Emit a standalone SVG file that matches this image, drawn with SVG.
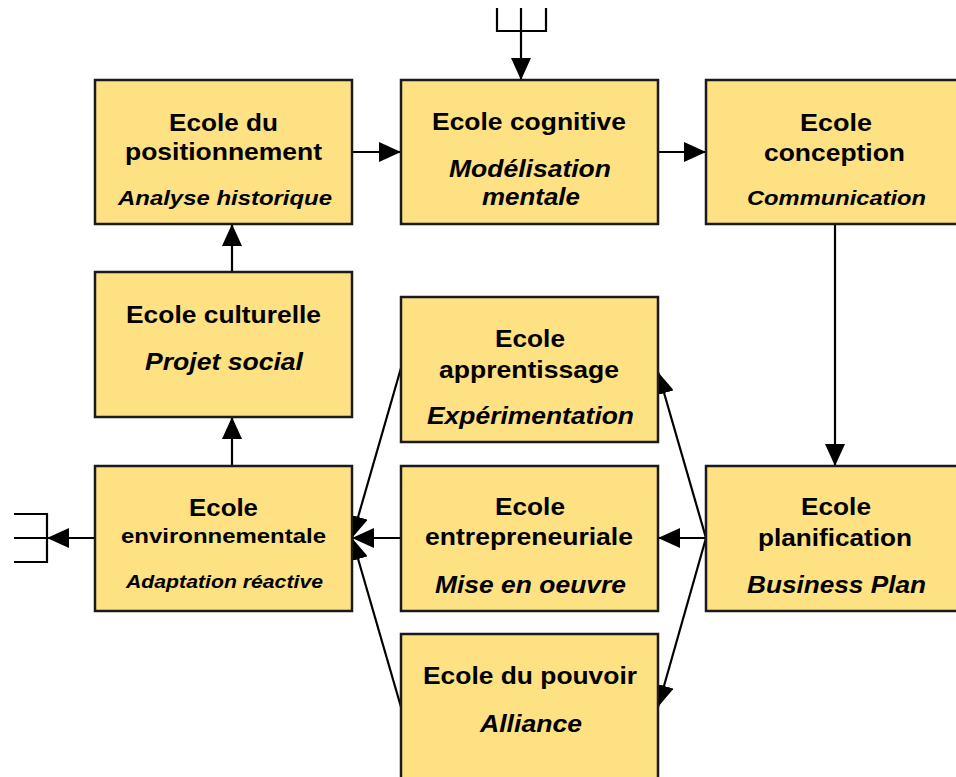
<svg xmlns="http://www.w3.org/2000/svg" width="956" height="777" viewBox="0 0 956 777">
<defs>
<marker id="arr" viewBox="0 0 22 20" refX="22" refY="10" markerWidth="22" markerHeight="20" markerUnits="userSpaceOnUse" orient="auto">
<path d="M0,0 L22,10 L0,20 z" fill="#000"/>
</marker>
<style>
.box{fill:#FEE183;stroke:#1a1a1a;stroke-width:2.5}
.ln{fill:none;stroke:#000;stroke-width:2.2}
.ar{fill:none;stroke:#000;stroke-width:2.2;marker-end:url(#arr)}
text{font-family:"Liberation Sans",Arial,sans-serif;fill:#000;font-weight:bold}
.b{font-size:24.5px}
.bs{font-size:20.5px}
.i{font-size:23.5px;font-style:italic}
.si{font-size:19.5px;font-style:italic}
.xs{font-size:18.5px;font-style:italic}
</style>
</defs>
<rect width="956" height="777" fill="#fff"/>
<g id="connectors">
<path class="ln" d="M497,8 V31 H546 V8 M521,8 V31"/>
<path class="ar" d="M521,31 V80"/>
<path class="ar" d="M352,152 H401"/>
<path class="ar" d="M658,152 H706"/>
<path class="ar" d="M835,224 V466"/>
<path class="ar" d="M232,272 V224"/>
<path class="ar" d="M232,466 V417"/>
<path class="ar" d="M95,538 H47"/>
<path class="ln" d="M14,514 H47 V562 H14 M14,538 H47"/>
<path class="ar" d="M401,538 H352"/>
<path class="ar" d="M401,368 L352,538"/>
<path class="ar" d="M401,707 L352,538"/>
<path class="ar" d="M706,538 H658"/>
<path class="ar" d="M706,538 L658,372"/>
<path class="ar" d="M706,538 L658,707"/>
</g>
<g id="positionnement">
<rect class="box" x="95" y="80" width="257" height="144"/>
<text class="b" x="169" y="131" textLength="109" lengthAdjust="spacingAndGlyphs">Ecole du</text>
<text class="b" x="125" y="160" textLength="197" lengthAdjust="spacingAndGlyphs">positionnement</text>
<text class="si" x="118" y="205" textLength="214" lengthAdjust="spacingAndGlyphs">Analyse historique</text>
</g>
<g id="cognitive">
<rect class="box" x="401" y="80" width="257" height="144"/>
<text class="b" x="432" y="130" textLength="194" lengthAdjust="spacingAndGlyphs">Ecole cognitive</text>
<text class="i" x="449" y="177" textLength="162" lengthAdjust="spacingAndGlyphs">Modélisation</text>
<text class="i" x="482" y="205" textLength="98" lengthAdjust="spacingAndGlyphs">mentale</text>
</g>
<g id="conception">
<rect class="box" x="706" y="80" width="262" height="144"/>
<text class="b" x="800" y="131" textLength="72" lengthAdjust="spacingAndGlyphs">Ecole</text>
<text class="b" x="764" y="161" textLength="141" lengthAdjust="spacingAndGlyphs">conception</text>
<text class="si" x="747" y="205" textLength="179" lengthAdjust="spacingAndGlyphs">Communication</text>
</g>
<g id="culturelle">
<rect class="box" x="95" y="272" width="257" height="145"/>
<text class="b" x="126" y="323" textLength="195" lengthAdjust="spacingAndGlyphs">Ecole culturelle</text>
<text class="i" x="145" y="370" textLength="158" lengthAdjust="spacingAndGlyphs">Projet social</text>
</g>
<g id="apprentissage">
<rect class="box" x="401" y="297" width="257" height="145"/>
<text class="b" x="495" y="347" textLength="70" lengthAdjust="spacingAndGlyphs">Ecole</text>
<text class="b" x="439" y="378" textLength="180" lengthAdjust="spacingAndGlyphs">apprentissage</text>
<text class="i" x="427" y="424" textLength="207" lengthAdjust="spacingAndGlyphs">Expérimentation</text>
</g>
<g id="entrepreneuriale">
<rect class="box" x="401" y="466" width="257" height="145"/>
<text class="b" x="495" y="515" textLength="70" lengthAdjust="spacingAndGlyphs">Ecole</text>
<text class="b" x="425" y="545" textLength="208" lengthAdjust="spacingAndGlyphs">entrepreneuriale</text>
<text class="i" x="435" y="593" textLength="191" lengthAdjust="spacingAndGlyphs">Mise en oeuvre</text>
</g>
<g id="environnementale">
<rect class="box" x="95" y="466" width="257" height="145"/>
<text class="b" x="189" y="516" textLength="69" lengthAdjust="spacingAndGlyphs">Ecole</text>
<text class="bs" x="121" y="543" textLength="205" lengthAdjust="spacingAndGlyphs">environnementale</text>
<text class="xs" x="126" y="588" textLength="197" lengthAdjust="spacingAndGlyphs">Adaptation réactive</text>
</g>
<g id="planification">
<rect class="box" x="706" y="466" width="262" height="145"/>
<text class="b" x="801" y="515" textLength="70" lengthAdjust="spacingAndGlyphs">Ecole</text>
<text class="b" x="758" y="546" textLength="154" lengthAdjust="spacingAndGlyphs">planification</text>
<text class="i" x="747" y="593" textLength="179" lengthAdjust="spacingAndGlyphs">Business Plan</text>
</g>
<g id="pouvoir">
<rect class="box" x="401" y="634" width="257" height="160"/>
<text class="b" x="423" y="684" textLength="214" lengthAdjust="spacingAndGlyphs">Ecole du pouvoir</text>
<text class="i" x="480" y="732" textLength="102" lengthAdjust="spacingAndGlyphs">Alliance</text>
</g>
</svg>
